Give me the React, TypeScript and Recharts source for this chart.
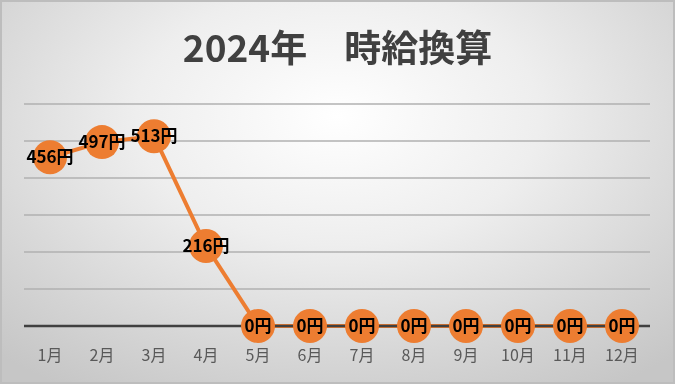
import { LineChart, Line, XAxis, YAxis, CartesianGrid, LabelList } from "recharts";

const months = ["1月", "2月", "3月", "4月", "5月", "6月", "7月", "8月", "9月", "10月", "11月", "12月"];
const wages = [456, 497, 513, 216, 0, 0, 0, 0, 0, 0, 0, 0];
const yTicks = [0, 100, 200, 300, 400, 500, 600];

const data = months.map((m, i) => ({ month: m, wage: wages[i] }));

const FONT = '"Noto Sans CJK JP", "Noto Sans", sans-serif';

export default function App() {
  return (
    <div
      style={{
        position: "fixed",
        left: 0,
        top: 0,
        width: 675,
        height: 384,
        boxSizing: "border-box",
        border: "2px solid #bdbdbd",
        background:
          "radial-gradient(ellipse 75% 85% at 50% 30%, #ffffff 0%, #eeeeee 40%, #d6d6d6 75%, #c6c6c6 100%)",
        fontFamily: FONT,
      }}
    >
      <div
        style={{
          position: "absolute",
          left: 0,
          top: 18,
          width: 671,
          textAlign: "center",
          lineHeight: "52px",
          fontSize: 37,
          fontWeight: "bold",
          color: "#404040",
          whiteSpace: "pre",
        }}
      >
        2024年　時給換算
      </div>
      <div style={{ position: "absolute", left: -2, top: -2 }}>
        <LineChart
          width={675}
          height={384}
          data={data}
          margin={{ top: 104, right: 25, left: 24, bottom: 28 }}
        >
          <CartesianGrid vertical={false} stroke="#b0b0b0" strokeWidth={1.5} />
          <XAxis
            dataKey="month"
            height={30}
            padding={{ left: 26, right: 28 }}
            axisLine={{ stroke: "#404040", strokeWidth: 2.5 }}
            tickLine={false}
            tick={{ fill: "#595959", fontSize: 16, fontFamily: FONT }}
            tickMargin={18}
          />
          <YAxis hide domain={[0, 600]} ticks={yTicks} />
          <Line
            type="linear"
            dataKey="wage"
            stroke="#ED7D31"
            strokeWidth={4}
            dot={{ r: 17, fill: "#ED7D31", stroke: "none" }}
            isAnimationActive={false}
          >
            <LabelList
              dataKey="wage"
              position="center"
              formatter={(v: number) => `${v}円`}
              style={{ fill: "#000", fontSize: 17, fontWeight: "bold", fontFamily: FONT }}
            />
          </Line>
        </LineChart>
      </div>
    </div>
  );
}
